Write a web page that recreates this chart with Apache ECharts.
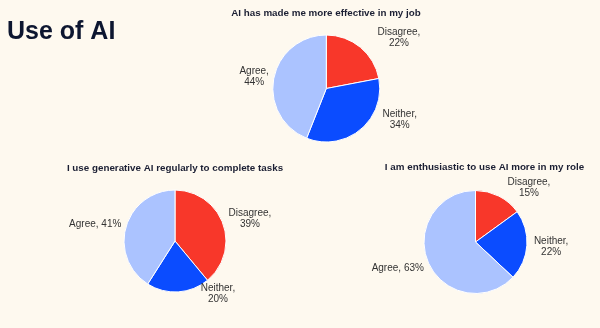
<!DOCTYPE html>
<html>
<head>
<meta charset="utf-8">
<script src="https://cdn.jsdelivr.net/npm/echarts@6/dist/echarts.min.js"></script>
<style>
  html, body { margin: 0; padding: 0; background: #fef9ef; }
  #chart { width: 600px; height: 328px; }
</style>
</head>
<body>
<div id="chart"></div>
<script>
// ---- data ----
const pageTitle = 'Use of AI';
const categories = ['Disagree', 'Neither', 'Agree'];
const chartTitles = [
  'AI has made me more effective in my job',
  'I use generative AI regularly to complete tasks',
  'I am enthusiastic to use AI more in my role'
];
const effectiveValues = [22, 34, 44];
const generativeValues = [39, 20, 41];
const enthusiasticValues = [15, 22, 63];

// ---- styles / layout ----
const FONT = "'Liberation Sans', Arial, Helvetica, sans-serif";
const sliceColors = ['#f8372a', '#0b4cff', '#abc3ff'];
const pieLayouts = [
  { center: [326.3, 88.5], radius: 53.5, titlePos: [326, 13] },
  { center: [175, 241], radius: 51, titlePos: [175, 168] },
  { center: [475.5, 242], radius: 51.5, titlePos: [484.5, 167.5] }
];
// labels written on a single line (per chart)
const singleLineLabels = [[], ['Agree'], ['Agree']];
// small label nudges relative to the library's default outside placement
const labelNudges = [
  [[3, -3], [8, -16], [12, 0]],
  [[-11, -2], [13, -6], [12, 0]],
  [[-4, -1.5], [-10, 1], [12, 3]]
];

const seriesValues = [effectiveValues, generativeValues, enthusiasticValues];

const chart = echarts.init(document.getElementById('chart'), null, { renderer: 'canvas' });

const series = seriesValues.map((vals, si) => ({
  type: 'pie',
  center: pieLayouts[si].center,
  radius: pieLayouts[si].radius,
  startAngle: 90,
  clockwise: true,
  avoidLabelOverlap: false,
  silent: true,
  data: categories.map((c, i) => ({ name: c, value: vals[i], itemStyle: { color: sliceColors[i] } })),
  itemStyle: { borderColor: '#ffffff', borderWidth: 1 },
  label: {
    show: true,
    position: 'outside',
    fontFamily: FONT,
    fontSize: 10,
    lineHeight: 11,
    color: '#333333',
    formatter: p => singleLineLabels[si].includes(p.name)
      ? p.name + ', ' + p.value + '%'
      : p.name + ',\n' + p.value + '%'
  },
  labelLine: { show: false, length: 8, length2: 4 },
  labelLayout: params => {
    const r = params.labelRect;
    const n = labelNudges[si][params.dataIndex] || [0, 0];
    return {
      x: r.x + r.width / 2 + n[0],
      y: r.y + r.height / 2 + n[1],
      align: 'center',
      verticalAlign: 'middle'
    };
  }
}));

const graphics = [
  {
    type: 'text', left: null, x: 7, y: 32.5,
    style: {
      text: pageTitle, font: 'bold 25px ' + FONT, fill: '#0d1630',
      align: 'left', verticalAlign: 'middle', textAlign: 'left', textVerticalAlign: 'middle'
    }
  }
].concat(chartTitles.map((t, i) => ({
  type: 'text', x: pieLayouts[i].titlePos[0], y: pieLayouts[i].titlePos[1],
  style: {
    text: t, font: 'bold 9.8px ' + FONT, fill: '#1b1f33',
    align: 'center', verticalAlign: 'middle', textAlign: 'center', textVerticalAlign: 'middle'
  }
})));

chart.setOption({
  backgroundColor: '#fef9ef',
  animation: false,
  graphic: graphics,
  series: series
});
</script>
</body>
</html>
